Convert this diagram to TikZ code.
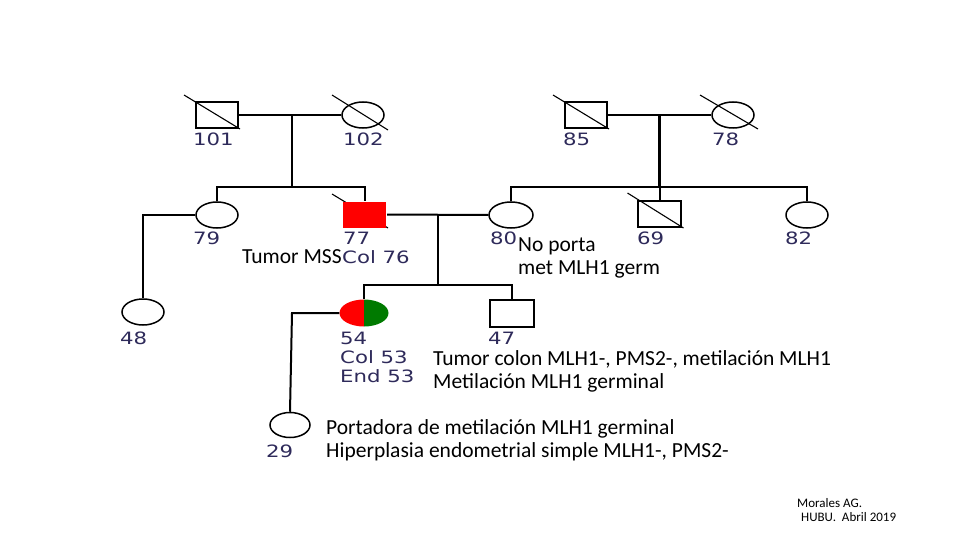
\documentclass[tikz,border=0pt]{standalone}
\usepackage{fontspec}
\usetikzlibrary{shapes.geometric}
\setmainfont{Carlito}
\newfontfamily\pedfont[FakeStretch=1.25]{DejaVu Sans}
\definecolor{lbl}{HTML}{2E2A5A}
\definecolor{pedred}{HTML}{FF0000}
\definecolor{pedgreen}{HTML}{007A00}
\begin{document}
\begin{tikzpicture}[x=1pt,y=-1pt,
  pline/.style={line width=2pt},
  slash/.style={line width=1.1pt},
  male/.style={draw, line width=2pt, minimum width=42pt, minimum height=26pt, inner sep=0pt},
  female/.style={draw, ellipse, line width=1.5pt, minimum width=42pt, minimum height=26pt, inner sep=0pt},
  pid/.style={anchor=west, text=lbl, font=\pedfont\fontsize{17}{17}\selectfont, inner sep=0pt},
  note/.style={anchor=base west, font=\fontsize{21.5}{23}\selectfont, inner sep=0pt, align=left},
  small/.style={anchor=base west, font=\fontsize{13}{14}\selectfont, inner sep=0pt}]
\useasboundingbox (0,0) rectangle (960,540);

% ---------- Generation I ----------
\node[male] (p101) at (217,115) {};
\node[female] (p102) at (363,115) {};
\node[male] (p85) at (586,115) {};
\node[female] (p78) at (733,115) {};
\draw[slash] ([shift={(-33,-20)}]p101.center) -- ([shift={(23,14)}]p101.center);
\draw[slash] ([shift={(-31,-20)}]p102.center) -- ([shift={(25,15)}]p102.center);
\draw[slash] ([shift={(-33,-20)}]p85.center) -- ([shift={(23,14)}]p85.center);
\draw[slash] ([shift={(-33,-20)}]p78.center) -- ([shift={(25,14)}]p78.center);

\node[pid] (l101) at (193,139) {101};
\node[pid] (l102) at (343,139) {102};
\node[pid] (l85) at (563,139) {85};
\node[pid] (l78) at (712,139) {78};

% ---------- Generation II ----------
\node[female] (p79) at (217,215) {};
\draw[slash] (332,194) -- (388,228);
\node[male, fill=pedred, minimum width=43pt, draw=none] (p77) at (364.5,214.5) {};
\node[female, minimum width=44pt] (p80) at (511,215) {};
\node[male, minimum width=43pt] (p69) at (659.5,214) {};
\draw[slash] ([shift={(-32,-21)}]p69.center) -- ([shift={(24,14)}]p69.center);
\node[female] (p82) at (807,215) {};

\node[pid] (l79) at (193,238) {79};
\node[pid] (l77) at (343,238) {77};
\node[pid] (c76) at (342,257) {Col 76};
\node[pid] (l80) at (490,238) {80};
\node[pid] (l69) at (637,238) {69};
\node[pid] (l82) at (785,238) {82};

% ---------- Generation III ----------
\node[female] (p48) at (143,312) {};
\begin{scope}
  \clip (364,313) ellipse [x radius=24.5, y radius=13.5];
  \fill[pedred] (339,299) rectangle (364,328);
  \fill[pedgreen] (364,299) rectangle (390,328);
\end{scope}
\node[ellipse, minimum width=49pt, minimum height=27pt, inner sep=0pt] (p54) at (364,313) {};
\node[male, minimum width=44pt, minimum height=27pt] (p47) at (512,313) {};

\node[pid] (l48) at (120,338) {48};
\node[pid] (l54) at (340,338) {54};
\node[pid] (c53) at (340,357) {Col 53};
\node[pid] (e53) at (340,376) {End 53};
\node[pid] (l47) at (488,338) {47};

% ---------- Generation IV ----------
\node[female, minimum width=40pt, minimum height=25pt] (p29) at (290,425) {};
\node[pid] (l29) at (266,451) {29};

% ---------- connectors ----------
\coordinate (m1) at (292,115);
\coordinate (s1) at (292,187);
\coordinate (s1l) at (217,187);
\coordinate (s1r) at (364.5,187);
\draw[pline] (p101.east) -- (p102.west);
\draw[pline] (m1) -- (s1);
\draw[pline] (p79.north) -- (s1l) -- (s1r) -- (p77.north);

\coordinate (m2) at (659.5,115);
\coordinate (s2) at (659.5,187);
\coordinate (s2l) at (511,187);
\coordinate (s2r) at (807,187);
\draw[pline] (p85.east) -- (p78.west);
\draw[line width=3pt] (m2) -- (s2);
\draw[pline] (p80.north) -- (s2l) -- (s2r) -- (p82.north);
\draw[pline] (s2) -- (p69.north);

\coordinate (k48) at (143,215);
\draw[pline] (p79.west) -- (k48) -- (p48.north);

\coordinate (m3) at (438,215);
\coordinate (s3) at (438,285);
\coordinate (s3l) at (364,285);
\coordinate (s3r) at (512,285);
\draw[pline] (p77.east) -- (p80.west);
\draw[pline] (m3) -- (s3);
\draw[pline] (p54.north) -- (s3l) -- (s3r) -- (p47.north);

\coordinate (k29) at (292,313);
\draw[pline] (p54.west) -- (k29) -- (p29.north);

% ---------- annotations (anchor = baseline of last line) ----------
\node[note] (t1) at (242,263) {Tumor MSS};
\node[note] (t2) at (518,274) {No porta\\met MLH1 germ};
\node[note] (t3) at (433,388) {Tumor colon MLH1-, PMS2-, metilación MLH1\\Metilación MLH1 germinal};
\node[note] (t4) at (326,457) {Portadora de metilación MLH1 germinal\\Hiperplasia endometrial simple MLH1-, PMS2-};
\node[small] (f1) at (797,507) {Morales AG.};
\node[small] (f2) at (801,521) {HUBU.~ Abril 2019};
\end{tikzpicture}
\end{document}
